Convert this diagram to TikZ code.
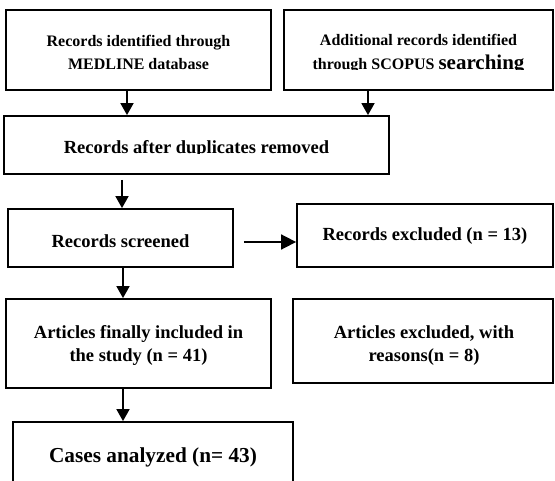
\documentclass[tikz,border=0pt]{standalone}
\usepackage{fontspec}
\setmainfont{Liberation Serif}
\usetikzlibrary{arrows.meta,positioning}

\tikzset{
    box/.style={draw, line width=1.8pt, inner sep=0pt},
    txt/.style={inner sep=0pt, anchor=base, align=center},
    smalltext/.style={txt, font=\fontsize{16}{23.3}\selectfont\bfseries},
    midtext/.style={txt, font=\fontsize{18.5}{23.7}\selectfont\bfseries},
    bigtext/.style={txt, font=\fontsize{21.3}{25}\selectfont\bfseries},
    arr/.style={line width=1.7pt, -{Triangle[width=13pt,length=12pt]}},
}

\begin{document}
\begin{tikzpicture}[x=1pt, y=-1pt]
    \useasboundingbox (0,0) rectangle (555,481);
    % boxes
    \node[box, minimum width=265, minimum height=80] (med) at (138.5,50) {};
    \node[box, minimum width=269, minimum height=80] (scop) at (418.5,50) {};
    \node[box, minimum width=385, minimum height=58] (dup) at (196.5,145) {};
    \node[box, minimum width=225, minimum height=58] (screen) at (120.5,238) {};
    \node[box, minimum width=256, minimum height=63] (excl) at (425,235.5) {};
    \node[box, minimum width=265, minimum height=89] (incl) at (138.5,343.5) {};
    \node[box, minimum width=260, minimum height=84] (reas) at (423,341) {};
    \node[box, minimum width=280, minimum height=68] (cases) at (153,456) {};
    % texts (base = last line)
    \node[smalltext] (med-t) at (138.5,70) {Records identified through\\MEDLINE database};
    \node[smalltext] (scop-t) at (418.5,45.7) {Additional records identified};
    \begin{scope}
        \clip (284,10) rectangle (553,69.6);
        \node[smalltext] (scop-t2) at (418.5,69.3) {through SCOPUS {\fontsize{21}{25}\selectfont searching}};
    \end{scope}
    \begin{scope}
        \clip (4,116) rectangle (389,154);
        \node[midtext] (dup-t) at (196.5,153.5) {Records after duplicates removed};
    \end{scope}
    \begin{scope}
        \clip (8,209) rectangle (233,247.7);
        \node[midtext] (screen-t) at (120.5,247.3) {Records screened};
    \end{scope}
    \node[midtext] (excl-t) at (425,241) {Records excluded (n = 13)};
    \node[midtext] (incl-t) at (138.5,362) {Articles finally included in\\the study (n = 41)};
    \node[midtext] (reas-t) at (424,362) {Articles excluded, with\\reasons(n = 8)};
    \node[bigtext] (cases-t) at (153,463) {Cases analyzed (n= 43)};
    % arrows
    \draw[arr] ([xshift=-11.5pt]med.south) -- ([xshift=-11.5pt]med.south |- dup.north);
    \draw[arr] ([xshift=-50.5pt]scop.south) -- ([xshift=-50.5pt]scop.south |- dup.north);
    \draw[arr, shorten <=5pt] ([xshift=-74.5pt]dup.south) -- ([xshift=-74.5pt]dup.south |- screen.north);
    \draw[arr] ([xshift=2.5pt]screen.south) -- ([xshift=2.5pt]screen.south |- incl.north);
    \draw[arr] ([xshift=-15.5pt]incl.south) -- ([xshift=-15.5pt]incl.south |- cases.north);
    \draw[arr, shorten <=10pt, -{Triangle[width=15pt,length=15pt]}] ([yshift=-4pt]screen.east) -- ([yshift=-4pt]screen.east -| excl.west);
\end{tikzpicture}
\end{document}
